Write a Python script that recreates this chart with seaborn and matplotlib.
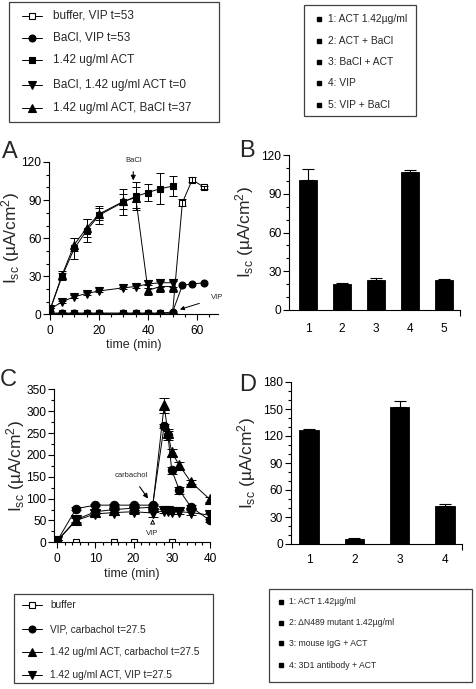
import numpy as np
import pandas as pd
import matplotlib
matplotlib.use("Agg")
import matplotlib.pyplot as plt
import seaborn as sns
from matplotlib.lines import Line2D
from matplotlib.patches import Rectangle
from matplotlib.ticker import MultipleLocator, FixedLocator

# ---------------- Panel A data (time course, µA/cm2) ----------------
a_time = [0, 5, 10, 15, 20, 30, 35, 40, 45, 50]
a_time_vip = [0, 5, 10, 15, 20, 30, 35, 40, 45, 50, 54, 58, 63]
a_buffer_vip = [1, 1, 1, 1, 1, 1, 1, 1, 1, 1, 88, 106, 100]
a_buffer_vip_err = [0, 0, 0, 0, 0, 0, 0, 0, 0, 0, 3, 2, 1]
a_bacl_vip = [1, 1, 1, 1, 1, 1, 1, 1, 1, 2, 23, 24, 25]
a_act = [3, 30, 52, 66, 78, 88.5, 93, 96, 99, 101]
a_act_err = [2, 3, 8, 9, 7, 10, 11, 7, 12, 8]
a_bacl_act0 = [4, 10, 14, 16.5, 18.5, 21, 22, 24, 25, 25]
a_bacl_act0_err = [1, 1, 1, 1, 1, 1, 1, 3, 3, 3]
a_act_bacl37 = [3, 31, 55, 68, 79, 89, 92, 19, 22, 22]
a_act_bacl37_err = [2, 3, 5, 7, 5, 6, 8, 4, 4, 4]
a_legend = ["buffer, VIP t=53", "BaCl, VIP t=53", "1.42 ug/ml ACT",
            "BaCl, 1.42 ug/ml ACT t=0", "1.42 ug/ml ACT, BaCl t=37"]

# ---------------- Panel B data ----------------
b_labels = ["1", "2", "3", "4", "5"]
b_values = [101, 20.5, 23.5, 106.5, 23.5]
b_err = [8, 0.5, 1.5, 2, 0.5]
b_legend = ["1: ACT 1.42µg/ml", "2: ACT + BaCl", "3: BaCl + ACT", "4: VIP", "5: VIP + BaCl"]

# ---------------- Panel C data ----------------
c_time = [0, 5, 10, 15, 20, 25, 28, 29, 30, 32, 35, 40]
c_vip_carb = [3, 77, 85, 85, 85, 85, 266, 245, 165, 119, 81, 50]
c_vip_carb_err = [2, 3, 3, 3, 3, 3, 5, 10, 8, 8, 5, 4]
c_act_carb = [3, 52, 70, 75, 78, 80, 313, 250, 206, 176, 138, 98]
c_act_carb_err = [2, 5, 5, 5, 5, 5, 18, 10, 8, 8, 5, 5]
c_act_vip = [3, 50, 65, 68, 70, 67, 72, 72, 70, 70, 68, 62]
c_act_vip_err = [2, 5, 5, 5, 5, 10, 5, 5, 5, 5, 5, 5]
c_time_buffer = [0, 5, 15, 20, 30]
c_buffer = [1, 1, 1, 1, 1]
c_legend = ["buffer", "VIP, carbachol t=27.5", "1.42 ug/ml ACT, carbachol t=27.5",
            "1.42 ug/ml ACT, VIP t=27.5"]

# ---------------- Panel D data ----------------
d_labels = ["1", "2", "3", "4"]
d_values = [127, 6, 152, 42]
d_err = [0.5, 0.3, 7, 3]
d_legend = ["1: ACT 1.42µg/ml", "2: ΔN489 mutant 1.42µg/ml", "3: mouse IgG + ACT",
            "4: 3D1 antibody + ACT"]

# ---------------- style ----------------
sns.set_theme(style="ticks")
plt.rcParams["font.family"] = ["Liberation Sans", "DejaVu Sans"]
plt.rcParams["mathtext.fontset"] = "custom"
plt.rcParams["mathtext.rm"] = "Liberation Sans"
plt.rcParams["mathtext.it"] = "Liberation Sans:italic"
plt.rcParams["axes.linewidth"] = 0.8

W, H = 477, 689
fig = plt.figure(figsize=(W / 100, H / 100), dpi=100)


def rect(l, t, r, b):
    return [l / W, 1 - b / H, (r - l) / W, (b - t) / H]


def fx(x):
    return x / W


def fy(y):
    return 1 - y / H


YLAB = "I$_{\\mathrm{sc}}$ (µA/cm$^{2}$)"


def style_axes(ax):
    sns.despine(ax=ax)
    ax.tick_params(which="major", direction="out", length=4, width=0.8,
                   labelsize=8.6, pad=1.5, color="black", labelcolor="black")
    ax.tick_params(which="minor", direction="out", length=2.2, width=0.8, color="black")
    ax.tick_params(axis="x", which="major", pad=3.5)
    for s in ax.spines.values():
        s.set_color("black")


def series(ax, x, y, marker, mfc, ms, err=None, cap=3):
    sns.lineplot(x=x, y=y, ax=ax, color="black", lw=0.7, marker=marker,
                 markersize=ms, markerfacecolor=mfc, markeredgecolor="black",
                 markeredgewidth=0.8, estimator=None, sort=False, legend=False)
    if err is not None:
        ax.errorbar(x, y, yerr=err, fmt="none", ecolor="black", elinewidth=0.7,
                    capsize=cap, capthick=0.7)


# ================= Panel A =================
axA = fig.add_axes(rect(49, 162, 218, 314.5))
series(axA, a_time_vip, a_buffer_vip, "s", "white", 5, a_buffer_vip_err)
series(axA, a_time_vip, a_bacl_vip, "o", "black", 5)
series(axA, a_time, a_act, "s", "black", 5, a_act_err)
series(axA, a_time, a_bacl_act0, "v", "black", 6, a_bacl_act0_err)
series(axA, a_time, a_act_bacl37, "^", "black", 6, a_act_bacl37_err)
axA.set_xlim(-0.3, 68.5)
axA.set_ylim(0, 120)
axA.xaxis.set_major_locator(MultipleLocator(20))
axA.xaxis.set_minor_locator(MultipleLocator(5))
axA.yaxis.set_major_locator(MultipleLocator(30))
axA.yaxis.set_minor_locator(MultipleLocator(10))
style_axes(axA)
axA.set_xlabel("time (min)", fontsize=9)
axA.set_ylabel(YLAB, fontsize=12.5)
axA.xaxis.set_label_coords(0.5, -0.16)
axA.yaxis.set_label_coords(-0.16, 0.5)
axA.annotate("BaCl", xy=(34, 105.5), xytext=(34, 121), ha="center", va="center",
             fontsize=5.5, annotation_clip=False,
             arrowprops=dict(arrowstyle="-|>", color="black", lw=0.8,
                             mutation_scale=7, shrinkA=3, shrinkB=0))
axA.annotate("VIP", xy=(53, 4), xytext=(68, 13), ha="center", va="center",
             fontsize=5.5, annotation_clip=False,
             arrowprops=dict(arrowstyle="-|>", color="black", lw=0.7,
                             mutation_scale=6, shrinkA=6, shrinkB=0))

# ================= Panel B =================
axB = fig.add_axes(rect(289, 155, 460, 310))
sns.barplot(x=b_labels, y=b_values, ax=axB, color="black", saturation=1,
            width=0.55, edgecolor="black", linewidth=0.6)
axB.errorbar(range(len(b_values)), b_values, yerr=[np.zeros(len(b_err)), b_err],
             fmt="none", ecolor="black", elinewidth=0.8, capsize=4, capthick=0.8)
axB.set_xlim(-0.56, 4.47)
axB.set_ylim(0, 120)
axB.yaxis.set_major_locator(MultipleLocator(30))
axB.yaxis.set_minor_locator(MultipleLocator(10))
axB.xaxis.set_minor_locator(FixedLocator([4.47]))
style_axes(axB)
axB.tick_params(axis="x", which="major", length=0, pad=9)
axB.tick_params(axis="x", which="minor", length=4)
axB.set_xlabel("")
axB.set_ylabel(YLAB, fontsize=12.5)
axB.yaxis.set_label_coords(-0.193, 0.5)

# ================= Panel C =================
axC = fig.add_axes(rect(54, 389.3, 210, 542.3))
series(axC, c_time_buffer, c_buffer, "s", "white", 5)
series(axC, c_time, c_vip_carb, "o", "black", 6, c_vip_carb_err, cap=3.5)
series(axC, c_time, c_act_carb, "^", "black", 7, c_act_carb_err, cap=3.5)
series(axC, c_time, c_act_vip, "v", "black", 7, c_act_vip_err, cap=3.5)
axC.set_xlim(-0.8, 40)
axC.set_ylim(0, 350)
axC.xaxis.set_major_locator(MultipleLocator(10))
axC.xaxis.set_minor_locator(MultipleLocator(2))
axC.yaxis.set_major_locator(MultipleLocator(50))
axC.yaxis.set_minor_locator(MultipleLocator(25))
style_axes(axC)
axC.set_xlabel("time (min)", fontsize=9)
axC.set_ylabel(YLAB, fontsize=12.5)
axC.xaxis.set_label_coords(0.5, -0.17)
axC.yaxis.set_label_coords(-0.175, 0.5)
axC.annotate("carbachol", xy=(23.8, 100), xytext=(19.5, 153), ha="center", va="center",
             fontsize=5.5, annotation_clip=False,
             arrowprops=dict(arrowstyle="-|>", color="black", lw=0.8,
                             mutation_scale=7, shrinkA=4, shrinkB=0))
axC.annotate("VIP", xy=(25, 53), xytext=(25, 19), ha="center", va="center",
             fontsize=5.5, annotation_clip=False,
             arrowprops=dict(arrowstyle="-|>", color="black", lw=0.7, fc="white",
                             mutation_scale=7, shrinkA=4, shrinkB=0))

# ================= Panel D =================
axD = fig.add_axes(rect(290.7, 382, 461.7, 544))
sns.barplot(x=d_labels, y=d_values, ax=axD, color="black", saturation=1,
            width=0.43, edgecolor="black", linewidth=0.6)
axD.errorbar(range(len(d_values)), d_values, yerr=[np.zeros(len(d_err)), d_err],
             fmt="none", ecolor="black", elinewidth=0.8, capsize=4, capthick=0.8)
axD.set_xlim(-0.404, 3.37)
axD.set_ylim(0, 180)
axD.yaxis.set_major_locator(MultipleLocator(30))
axD.yaxis.set_minor_locator(MultipleLocator(10))
axD.xaxis.set_minor_locator(FixedLocator([3.37]))
style_axes(axD)
axD.tick_params(axis="x", which="major", length=0, pad=7.5)
axD.tick_params(axis="x", which="minor", length=4)
axD.set_xlabel("")
axD.set_ylabel(YLAB, fontsize=12.5)
axD.yaxis.set_label_coords(-0.19, 0.5)

# ---------------- panel letters ----------------
for lab, (x, y) in {"A": (10, 152), "B": (247, 151), "C": (8, 380), "D": (248, 385)}.items():
    fig.text(fx(x), fy(y), lab, fontsize=17, ha="center", va="center")


# ---------------- legends ----------------
def box(x0, y0, x1, y1):
    fig.add_artist(Rectangle((fx(x0), fy(y1)), (x1 - x0) / W, (y1 - y0) / H,
                             transform=fig.transFigure, fill=False, lw=0.9,
                             ec="#404040"))


def line_entry(y, label, marker, mfc, ms, xm, xt, fs):
    fig.add_artist(Line2D([fx(xm - 10), fx(xm + 10)], [fy(y), fy(y)],
                          transform=fig.transFigure, color="black", lw=0.7))
    fig.add_artist(Line2D([fx(xm)], [fy(y)], transform=fig.transFigure,
                          marker=marker, ms=ms, mfc=mfc, mec="black", mew=0.8,
                          linestyle="none"))
    fig.text(fx(xt), fy(y), label, fontsize=fs, ha="left", va="center")


def bullet_entry(y, label, xb, xt, fs):
    fig.add_artist(Line2D([fx(xb)], [fy(y)], transform=fig.transFigure,
                          marker="s", ms=2.2, mfc="black", mec="black",
                          linestyle="none"))
    fig.text(fx(xt), fy(y), label, fontsize=fs, ha="left", va="center")


# top-left legend (panel A)
box(9, 2, 219, 122)
a_marks = [("s", "white", 5), ("o", "black", 5), ("s", "black", 5),
           ("v", "black", 6), ("^", "black", 6)]
for y, lab, (m, f, s) in zip([16, 38, 60, 85, 108], a_legend, a_marks):
    line_entry(y, lab, m, f, s, 31.7, 53, 8.5)

# top-right legend (panel B)
box(304, 5, 416, 116)
for y, lab in zip([18.7, 40.7, 61.7, 83.3, 105], b_legend):
    bullet_entry(y, lab, 319, 328, 7.4)

# bottom-left legend (panel C)
box(14, 594, 213, 683)
c_marks = [("s", "white", 5), ("o", "black", 5), ("^", "black", 6), ("v", "black", 6)]
for y, lab, (m, f, s) in zip([605, 629, 652, 675], c_legend, c_marks):
    line_entry(y, lab, m, f, s, 31.7, 50, 7.3)

# bottom-right legend (panel D)
box(269, 589, 472, 682)
for y, lab in zip([601.7, 622.7, 643.3, 665], d_legend):
    bullet_entry(y, lab, 281, 289, 6.2)

fig.savefig("out.png", dpi=100)
